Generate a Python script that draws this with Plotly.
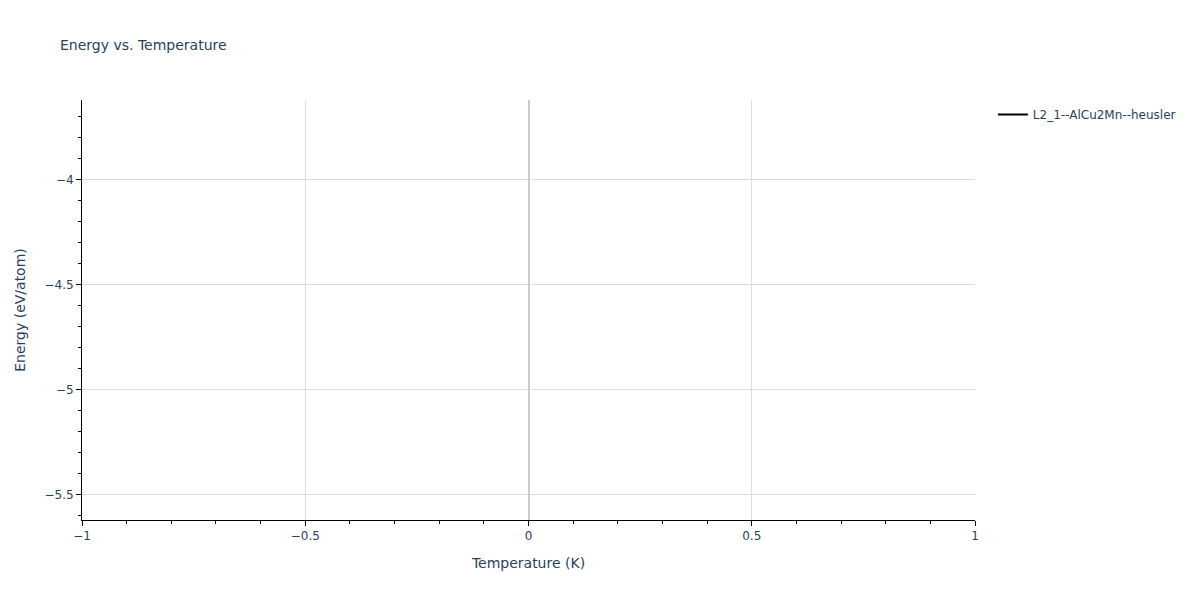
import plotly.graph_objects as go

# single converged point for the structure
temperature = [0]
energy = [-4.62]
structure = 'L2_1--AlCu2Mn--heusler'

fig = go.Figure()
fig.add_trace(go.Scatter(x=temperature, y=energy, mode='lines', name=structure,
                         line=dict(color='black'), showlegend=True))

# page has an 8px body margin, so the figure is sized / shifted to sit like the original
fig.update_layout(
    template='plotly_white',
    font=dict(family='DejaVu Sans', size=12),
    title=dict(text='Energy vs. Temperature', font=dict(size=14),
               x=52 / 1185, xanchor='left', y=1 - 37 / 592, yanchor='middle'),
    xaxis_title='Temperature (K)',
    yaxis_title='Energy (eV/atom)',
    width=1185, height=592,
    margin=dict(l=72, r=80, t=92, b=80),
)
axis_style = dict(showline=True, linecolor='black', linewidth=1, ticks='outside',
                  tickcolor='black', ticklen=5, gridcolor='#dddddd',
                  title_font=dict(size=14),
                  minor=dict(ticks='outside', ticklen=3, tickcolor='black', showgrid=False))
fig.update_xaxes(**axis_style, zeroline=True, zerolinecolor='#cccccc', zerolinewidth=2,
                 minor_dtick=0.1)
fig.update_yaxes(**axis_style, minor_dtick=0.1)

fig.write_html("out.html")
